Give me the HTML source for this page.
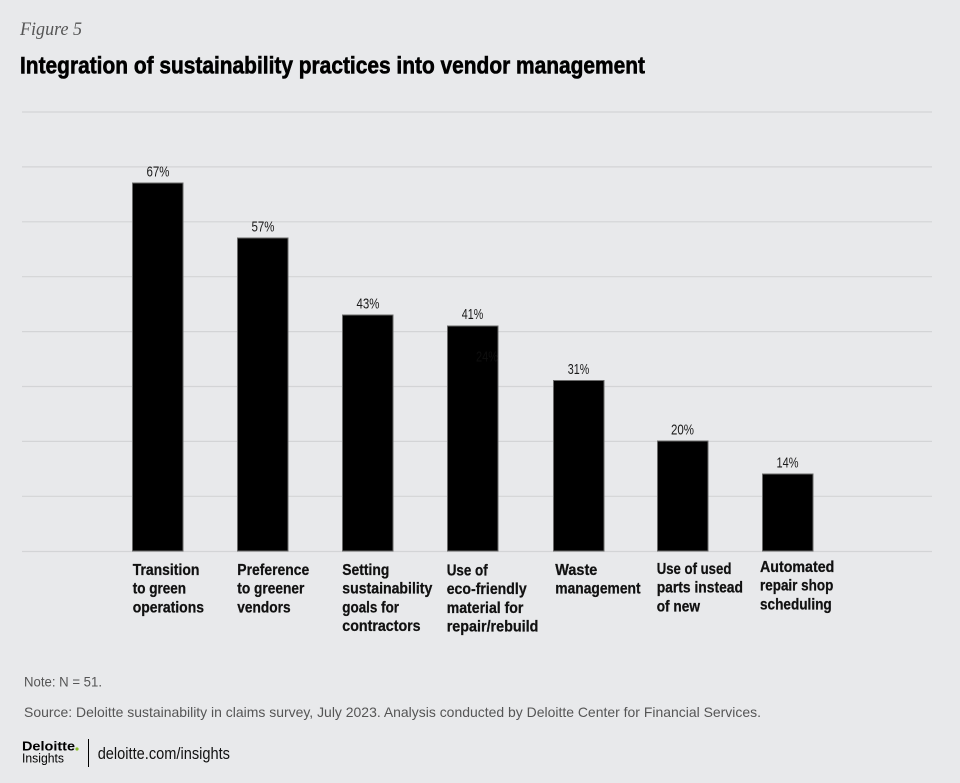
<!DOCTYPE html>
<html>
<head>
<meta charset="utf-8">
<style>
html,body{margin:0;padding:0;background:#e8e9eb;}
svg{display:block;}
</style>
</head>
<body>
<svg width="960" height="783" viewBox="0 0 960 783" xmlns="http://www.w3.org/2000/svg">
<rect width="960" height="783" fill="#e8e9eb"/>
<text x="20" y="35" font-family="Liberation Serif, serif" font-style="italic" font-size="18.5" fill="#555" textLength="62" lengthAdjust="spacingAndGlyphs">Figure 5</text>
<text x="20" y="73.5" font-family="Liberation Sans, sans-serif" font-weight="bold" font-size="24.5" fill="#000" textLength="625" lengthAdjust="spacingAndGlyphs" stroke="#000" stroke-width="0.6">Integration of sustainability practices into vendor management</text>

<g stroke="#d3d4d6" stroke-width="1.2">
<line x1="22" x2="932" y1="112" y2="112"/>
<line x1="22" x2="932" y1="166.9" y2="166.9"/>
<line x1="22" x2="932" y1="221.8" y2="221.8"/>
<line x1="22" x2="932" y1="276.7" y2="276.7"/>
<line x1="22" x2="932" y1="331.6" y2="331.6"/>
<line x1="22" x2="932" y1="386.5" y2="386.5"/>
<line x1="22" x2="932" y1="441.4" y2="441.4"/>
<line x1="22" x2="932" y1="496.3" y2="496.3"/>
<line x1="22" x2="932" y1="551.5" y2="551.5"/>
</g>

<g fill="#000" stroke="#6a6a6a" stroke-width="1">
<rect x="132.5" y="183" width="50.5" height="368"/>
<rect x="237.5" y="238" width="50.5" height="313"/>
<rect x="342.5" y="315" width="50.5" height="236"/>
<rect x="447.5" y="326" width="50.5" height="225"/>
<rect x="553.5" y="380.5" width="50.5" height="170.5"/>
<rect x="657.5" y="441" width="50.5" height="110"/>
<rect x="762.5" y="474" width="50.5" height="77"/>
</g>

<text x="476" y="361.5" font-family="Liberation Sans, sans-serif" font-size="15" fill="#0e0e0e" textLength="22" lengthAdjust="spacingAndGlyphs">24%</text>

<g font-family="Liberation Sans, sans-serif" font-size="15" fill="#1a1a1a" text-anchor="middle">
<text x="158" y="176.5" textLength="23" lengthAdjust="spacingAndGlyphs">67%</text>
<text x="263" y="231.5" textLength="23" lengthAdjust="spacingAndGlyphs">57%</text>
<text x="368" y="308.5" textLength="23" lengthAdjust="spacingAndGlyphs">43%</text>
<text x="472.5" y="319" textLength="21.5" lengthAdjust="spacingAndGlyphs">41%</text>
<text x="578.5" y="374" textLength="21.5" lengthAdjust="spacingAndGlyphs">31%</text>
<text x="682.5" y="434.5" textLength="23" lengthAdjust="spacingAndGlyphs">20%</text>
<text x="787.5" y="467.5" textLength="22" lengthAdjust="spacingAndGlyphs">14%</text>
</g>

<g font-family="Liberation Sans, sans-serif" font-weight="bold" font-size="15.3" fill="#111" stroke="#111" stroke-width="0.25">
<text x="132.7" y="575" textLength="66.7" lengthAdjust="spacingAndGlyphs">Transition</text>
<text x="132.7" y="593.7" textLength="53.3" lengthAdjust="spacingAndGlyphs">to green</text>
<text x="132.7" y="612.4" textLength="71.3" lengthAdjust="spacingAndGlyphs">operations</text>

<text x="237.3" y="575" textLength="72" lengthAdjust="spacingAndGlyphs">Preference</text>
<text x="237.3" y="593.7" textLength="67" lengthAdjust="spacingAndGlyphs">to greener</text>
<text x="237.3" y="612.4" textLength="53.3" lengthAdjust="spacingAndGlyphs">vendors</text>

<text x="342.3" y="575" textLength="47" lengthAdjust="spacingAndGlyphs">Setting</text>
<text x="342.3" y="593.7" textLength="90" lengthAdjust="spacingAndGlyphs">sustainability</text>
<text x="342.3" y="612.4" textLength="56.7" lengthAdjust="spacingAndGlyphs">goals for</text>
<text x="342.3" y="631.1" textLength="78.3" lengthAdjust="spacingAndGlyphs">contractors</text>

<text x="446.7" y="575.5" textLength="41" lengthAdjust="spacingAndGlyphs">Use of</text>
<text x="446.7" y="594.2" textLength="80" lengthAdjust="spacingAndGlyphs">eco-friendly</text>
<text x="446.7" y="612.9" textLength="76.7" lengthAdjust="spacingAndGlyphs">material for</text>
<text x="446.7" y="631.6" textLength="91.7" lengthAdjust="spacingAndGlyphs">repair/rebuild</text>

<text x="555.3" y="574.8" textLength="42" lengthAdjust="spacingAndGlyphs">Waste</text>
<text x="555.3" y="593.5" textLength="85.3" lengthAdjust="spacingAndGlyphs">management</text>

<text x="656.7" y="574" textLength="74.7" lengthAdjust="spacingAndGlyphs">Use of used</text>
<text x="656.7" y="592.7" textLength="86.3" lengthAdjust="spacingAndGlyphs">parts instead</text>
<text x="656.7" y="611.4" textLength="43.3" lengthAdjust="spacingAndGlyphs">of new</text>

<text x="760" y="572" textLength="74.3" lengthAdjust="spacingAndGlyphs">Automated</text>
<text x="760" y="590.7" textLength="73.3" lengthAdjust="spacingAndGlyphs">repair shop</text>
<text x="760" y="609.4" textLength="71.7" lengthAdjust="spacingAndGlyphs">scheduling</text>
</g>

<g font-family="Liberation Sans, sans-serif" font-size="14" fill="#555">
<text x="24" y="686.5" textLength="78" lengthAdjust="spacingAndGlyphs">Note: N = 51.</text>
<text x="24" y="717" textLength="737" lengthAdjust="spacingAndGlyphs">Source: Deloitte sustainability in claims survey, July 2023. Analysis conducted by Deloitte Center for Financial Services.</text>
</g>

<text x="22" y="750.5" font-family="Liberation Sans, sans-serif" font-weight="bold" font-size="13" fill="#000" textLength="53" lengthAdjust="spacingAndGlyphs">Deloitte</text>
<circle cx="77" cy="749" r="1.6" fill="#86bc25"/>
<text x="22" y="762.5" font-family="Liberation Sans, sans-serif" font-size="13" fill="#000" textLength="42" lengthAdjust="spacingAndGlyphs">Insights</text>
<line x1="88.5" x2="88.5" y1="739" y2="767" stroke="#000" stroke-width="1"/>
<text x="97.7" y="759" font-family="Liberation Sans, sans-serif" font-size="16.5" fill="#111" textLength="132.3" lengthAdjust="spacingAndGlyphs">deloitte.com/insights</text>
</svg>
</body>
</html>
